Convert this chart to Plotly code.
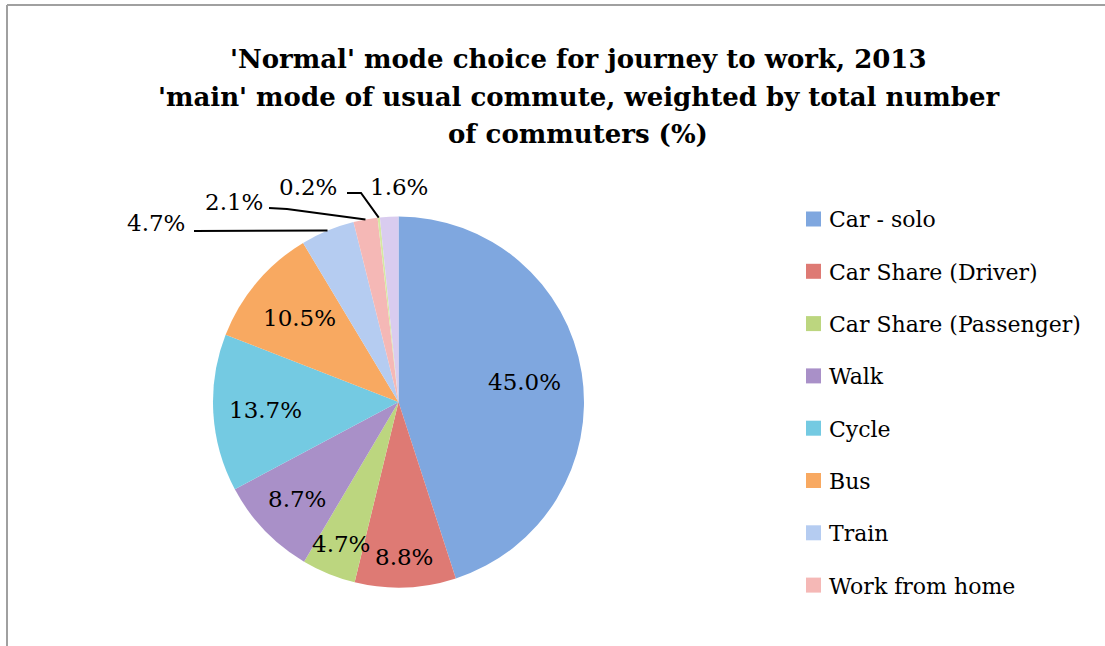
import math
import plotly.graph_objects as go

# ---------------- data ----------------
categories = ["Car - solo", "Car Share (Driver)", "Car Share (Passenger)", "Walk",
              "Cycle", "Bus", "Train", "Work from home", "Motorcycle", "Other"]
shares = [45.0, 8.8, 4.7, 8.7, 13.7, 10.5, 4.7, 2.1, 0.2, 1.6]
legend_count = 8  # only the first eight entries are visible in the legend
title_lines = ["'Normal' mode choice for journey to work, 2013",
               "'main' mode of usual commute, weighted by total number",
               "of commuters (%)"]

# ---------------- style / layout ----------------
colors = ["#7FA7DF", "#DE7A74", "#BCD67F", "#A990C8", "#74CAE2",
          "#F8A961", "#B5CCF1", "#F5B8B6", "#D6E8A2", "#D9CCEF"]
W, H = 1105, 646
cx, cy, R = 398.5, 402.0, 185.5
label_font = dict(family="DejaVu Serif", size=23, color="#000000")
legend_font = dict(family="DejaVu Serif", size=22, color="#000000")
title_font = dict(family="DejaVu Serif", size=26, color="#000000")

# radial position (fraction of radius) of the inside labels
inside_radius = {0: 0.685, 1: 0.836, 2: 0.826, 3: 0.76, 4: 0.72, 5: 0.70}
# outside labels: text centre, and leader line start / elbow (pixels)
outside = {
    6: dict(text=(156, 223), line=[(194, 231)]),
    7: dict(text=(234, 202), line=[(269, 208), (287, 209)]),
    8: dict(text=(308, 187), line=[(347, 193), (361, 193)]),
    9: dict(text=(399, 187), line=None),
}


def px(x):
    return x / W


def py(y):
    return 1 - y / H


fig = go.Figure()
fig.add_trace(go.Pie(
    labels=categories, values=shares, sort=False, direction="clockwise",
    rotation=0, marker=dict(colors=colors, line=dict(width=0)),
    textinfo="none", hoverinfo="label+percent", showlegend=False,
    domain=dict(x=[px(cx - R), px(cx + R)], y=[py(cy + R), py(cy - R)]),
))

annotations = []
shapes = []
total = sum(shares)
cum = 0.0
for i, v in enumerate(shares):
    mid = 2 * math.pi * (cum + v / 2) / total
    cum += v
    txt = f"{v:.1f}%"
    if i in inside_radius:
        f = inside_radius[i]
        x = cx + f * R * math.sin(mid)
        y = cy - f * R * math.cos(mid)
        annotations.append(dict(x=px(x), y=py(y), xref="paper", yref="paper",
                                text=txt, showarrow=False, font=label_font,
                                xanchor="center", yanchor="middle"))
    else:
        o = outside[i]
        tx, ty = o["text"]
        annotations.append(dict(x=px(tx), y=py(ty), xref="paper", yref="paper",
                                text=txt, showarrow=False, font=label_font,
                                xanchor="center", yanchor="middle"))
        if o["line"]:
            ex = cx + R * math.sin(mid)
            ey = cy - R * math.cos(mid)
            pts = o["line"] + [(ex, ey)]
            path = "M " + " L ".join(f"{px(a):.5f},{py(b):.5f}" for a, b in pts)
            shapes.append(dict(type="path", path=path, xref="paper", yref="paper",
                               line=dict(color="#000000", width=2)))

# title
for k, (line, yc) in enumerate(zip(title_lines, [59, 97, 134])):
    annotations.append(dict(x=px(578), y=py(yc), xref="paper", yref="paper",
                            text=f"<b>{line}</b>", showarrow=False, font=title_font,
                            xanchor="center", yanchor="middle"))

# legend (first eight categories)
for i in range(legend_count):
    yc = 219 + i * 52.3
    shapes.append(dict(type="rect", xref="paper", yref="paper",
                       x0=px(806), x1=px(821), y0=py(yc + 7.5), y1=py(yc - 7.5),
                       fillcolor=colors[i], line=dict(width=0)))
    annotations.append(dict(x=px(827), y=py(yc + 1), xref="paper", yref="paper",
                            text=categories[i], showarrow=False, font=legend_font,
                            xanchor="left", yanchor="middle"))

# chart area frame (top and left edges visible)
shapes.append(dict(type="line", xref="paper", yref="paper", x0=px(7), x1=1.05,
                   y0=py(5), y1=py(5), line=dict(color="#A0A0A0", width=2)))
shapes.append(dict(type="line", xref="paper", yref="paper", x0=px(7), x1=px(7),
                   y0=py(5), y1=-0.05, line=dict(color="#A0A0A0", width=2)))

fig.update_layout(
    width=W, height=H, margin=dict(l=0, r=0, t=0, b=0),
    paper_bgcolor="white", plot_bgcolor="white",
    annotations=annotations, shapes=shapes, showlegend=False,
)
fig.write_html("out.html", config={"displayModeBar": False},
               post_script="document.body.style.margin='0';document.body.style.overflow='hidden';")
